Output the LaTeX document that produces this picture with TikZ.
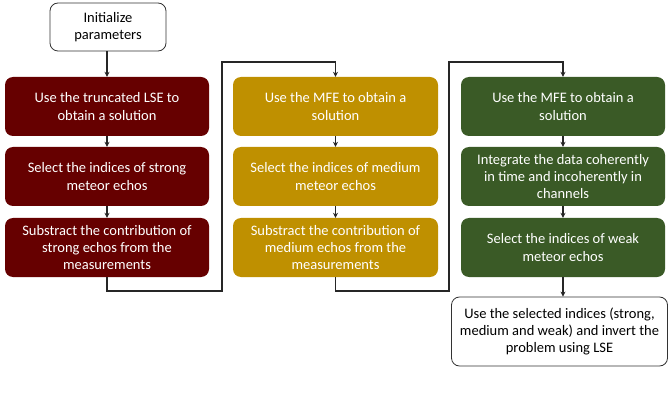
\documentclass[tikz,border=0pt]{standalone}
\usepackage{fontspec}
\setmainfont{Carlito}
\usetikzlibrary{arrows.meta}
\definecolor{cred}{HTML}{660000}
\definecolor{cgold}{HTML}{BF9000}
\definecolor{cgreen}{HTML}{3A5A26}
\tikzset{
  box/.style={rounded corners=8pt, minimum height=59pt, align=center,
    font=\fontsize{14.5}{17.4}\selectfont, inner sep=0pt},
  redbox/.style={box, fill=cred, text=white, minimum width=204pt},
  goldbox/.style={box, fill=cgold, text=white, minimum width=205pt},
  greenbox/.style={box, fill=cgreen, text=white, minimum width=204pt},
  whitebox/.style={box, draw=black!80, line width=0.8pt, fill=white, text=black},
  conn/.style={draw=black!85, line width=1.2pt, -{Stealth[length=5pt,width=5pt]}}
}
\begin{document}
\begin{tikzpicture}[x=1pt,y=-1pt]
\useasboundingbox (0,0) rectangle (669,398);
\node[whitebox, minimum width=116pt, minimum height=48pt] (init) at (108,27) {Initialize\\parameters};
\node[redbox] (r1) at (107,106.5) {Use the truncated LSE to\\obtain a solution};
\node[redbox] (r2) at (107,176.5) {Select the indices of strong\\meteor echos};
\node[redbox] (r3) at (107,247.5) {Substract the contribution of\\strong echos from the\\measurements};
\node[goldbox] (o1) at (335.5,106.5) {Use the MFE to obtain a\\solution};
\node[goldbox] (o2) at (335.5,176.5) {Select the indices of medium\\meteor echos};
\node[goldbox] (o3) at (335.5,247.5) {Substract the contribution of\\medium echos from the\\measurements};
\node[greenbox] (g1) at (563,106.5) {Use the MFE to obtain a\\solution};
\node[greenbox] (g2) at (563,176.5) {Integrate the data coherently\\in time and incoherently in\\channels};
\node[greenbox] (g3) at (563,247.5) {Select the indices of weak\\meteor echos};
\node[whitebox, minimum width=216pt, minimum height=69pt] (fin) at (559.5,331.5) {Use the selected indices (strong,\\medium and weak) and invert the\\problem using LSE};
\coordinate (a1) at (222,291);
\coordinate (a2) at (222,62);
\coordinate (b1) at (449,291);
\coordinate (b2) at (449,62);
\draw[conn] (init.south -| r1.north) -- (r1.north);
\draw[conn] (r1) -- (r2);
\draw[conn] (r2) -- (r3);
\draw[conn] (r3.south) |- (a1) -- (a2) -| (o1.north);
\draw[conn] (o1) -- (o2);
\draw[conn] (o2) -- (o3);
\draw[conn] (o3.south) |- (b1) -- (b2) -| (g1.north);
\draw[conn] (g1) -- (g2);
\draw[conn] (g2) -- (g3);
\draw[conn] (g3.south) -- (g3.south |- fin.north);
\end{tikzpicture}
\end{document}
